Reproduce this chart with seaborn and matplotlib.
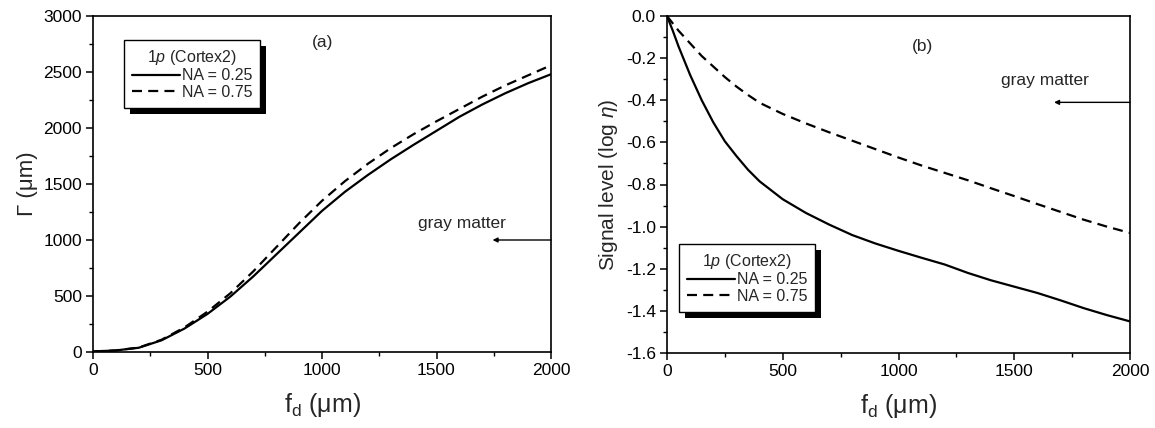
import matplotlib
matplotlib.use("Agg")
import matplotlib.pyplot as plt
import seaborn as sns
import pandas as pd
from matplotlib.patches import Rectangle
from matplotlib.ticker import MultipleLocator, FormatStrFormatter

# ---------------- data ----------------
fd_a = [0, 100, 200, 300, 400, 500, 600, 700, 800, 900, 1000, 1100, 1200,
        1300, 1400, 1500, 1600, 1700, 1800, 1900, 2000]
gamma_na025 = [5, 14, 38, 105, 210, 340, 495, 675, 870, 1065, 1260, 1430, 1580,
               1720, 1850, 1975, 2100, 2210, 2310, 2400, 2480]
gamma_na075 = [5, 14, 40, 110, 220, 360, 525, 720, 935, 1150, 1350, 1525, 1680,
               1820, 1945, 2060, 2170, 2280, 2380, 2470, 2560]

fd_b = [0, 25, 50, 100, 150, 200, 250, 300, 350, 400, 500, 600, 700, 800, 900,
        1000, 1100, 1200, 1300, 1400, 1500, 1600, 1700, 1800, 1900, 2000]
sig_na025 = [0.0, -0.07, -0.145, -0.28, -0.40, -0.505, -0.595, -0.665, -0.73, -0.785,
             -0.87, -0.935, -0.99, -1.04, -1.08, -1.115, -1.148, -1.18, -1.22, -1.255,
             -1.285, -1.315, -1.35, -1.387, -1.42, -1.45]
sig_na075 = [0.0, -0.035, -0.07, -0.13, -0.19, -0.24, -0.29, -0.335, -0.375, -0.412,
             -0.465, -0.51, -0.552, -0.592, -0.632, -0.672, -0.71, -0.745, -0.78, -0.818,
             -0.855, -0.893, -0.93, -0.967, -1.0, -1.03]

series_labels = ["NA = 0.25", "NA = 0.75"]
legend_title = r"$\it{1p}$ (Cortex2)"

# ---------------- style ----------------
sns.set_style("ticks")
plt.rcParams["font.family"] = ["Liberation Sans", "DejaVu Sans"]
plt.rcParams["mathtext.fontset"] = "custom"
plt.rcParams["mathtext.rm"] = "Liberation Sans"
plt.rcParams["mathtext.it"] = "Liberation Sans:italic"
plt.rcParams["axes.linewidth"] = 1.2

fig = plt.figure(figsize=(11.55, 4.28), dpi=100)
axA = fig.add_axes([93 / 1155, 1 - 352 / 428, 458 / 1155, 336 / 428])
axB = fig.add_axes([667 / 1155, 1 - 353 / 428, 463 / 1155, 337 / 428])

dash = (0, (4.5, 2.8))

dfa = pd.DataFrame({"fd": fd_a, "g1": gamma_na025, "g2": gamma_na075})
dfb = pd.DataFrame({"fd": fd_b, "s1": sig_na025, "s2": sig_na075})

sns.lineplot(data=dfa, x="fd", y="g1", ax=axA, color="black", lw=1.6,
             label=series_labels[0])
sns.lineplot(data=dfa, x="fd", y="g2", ax=axA, color="black", lw=1.6,
             linestyle=dash, label=series_labels[1])
sns.lineplot(data=dfb, x="fd", y="s1", ax=axB, color="black", lw=1.6,
             label=series_labels[0])
sns.lineplot(data=dfb, x="fd", y="s2", ax=axB, color="black", lw=1.6,
             linestyle=dash, label=series_labels[1])

xlab = r"f$_\mathregular{d}$ ($\mathregular{\mu}$m)"

def style_axis(ax, ymaj, ymin):
    ax.set_xlim(0, 2000)
    ax.xaxis.set_major_locator(MultipleLocator(500))
    ax.xaxis.set_minor_locator(MultipleLocator(250))
    ax.yaxis.set_major_locator(MultipleLocator(ymaj))
    ax.yaxis.set_minor_locator(MultipleLocator(ymin))
    for s in ax.spines.values():
        s.set_visible(True)
        s.set_color("black")
    ax.tick_params(axis="both", which="major", direction="out", length=5,
                   width=1.1, labelsize=12.5, colors="black", pad=3)
    ax.tick_params(axis="both", which="minor", direction="out", length=3,
                   width=1.0, colors="black")
    ax.set_xlabel(xlab, fontsize=18, labelpad=9)

style_axis(axA, 500, 250)
axA.set_ylim(0, 3000)
axA.set_ylabel("Γ (μm)", fontsize=16, labelpad=4)

style_axis(axB, 0.2, 0.1)
axB.set_ylim(-1.6, 0.0)
axB.set_ylabel(r"Signal level (log $\it{η}$)", fontsize=15, labelpad=4)
axB.yaxis.set_major_formatter(FormatStrFormatter("%.1f"))

# annotations
axA.text(1004, 2760, "(a)", fontsize=12.5, ha="center", va="center")
axB.text(1103, -0.145, "(b)", fontsize=12.5, ha="center", va="center")
axA.text(1611, 1150, "gray matter", fontsize=12.5, ha="center", va="center")
axB.text(1633, -0.305, "gray matter", fontsize=12.5, ha="center", va="center")
arrow = dict(arrowstyle="-|>", color="black", lw=1.0, mutation_scale=7,
             shrinkA=0, shrinkB=0)
axA.annotate("", xy=(1745, 1000), xytext=(2000, 1000), arrowprops=arrow)
axB.annotate("", xy=(1672, -0.41), xytext=(2000, -0.41), arrowprops=arrow)

# legends with solid black drop shadow
def make_legend(ax, anchor):
    leg = ax.legend(loc="upper left", bbox_to_anchor=anchor, title=legend_title,
                    fontsize=11.5, title_fontsize=11.5, frameon=True, fancybox=False,
                    framealpha=1, edgecolor="black", handlelength=3.0,
                    handletextpad=0.1, borderpad=0.5, labelspacing=0.1,
                    borderaxespad=0)
    leg.get_frame().set_linewidth(1.0)
    return leg

legA = make_legend(axA, (0.068, 0.929))
legB = make_legend(axB, (0.026, 0.324))

fig.canvas.draw()
for ax, leg in ((axA, legA), (axB, legB)):
    bb = leg.get_window_extent()
    inv = fig.transFigure.inverted()
    (x0, y0) = inv.transform((bb.x0 + 6, bb.y0 - 6))
    (x1, y1) = inv.transform((bb.x1 + 6, bb.y1 - 6))
    fig.add_artist(Rectangle((x0, y0), x1 - x0, y1 - y0, transform=fig.transFigure,
                             facecolor="black", edgecolor="none", zorder=5))
    leg.remove()
    fig.add_artist(leg)
    leg.set_zorder(6)

fig.savefig("out.png", dpi=100)
